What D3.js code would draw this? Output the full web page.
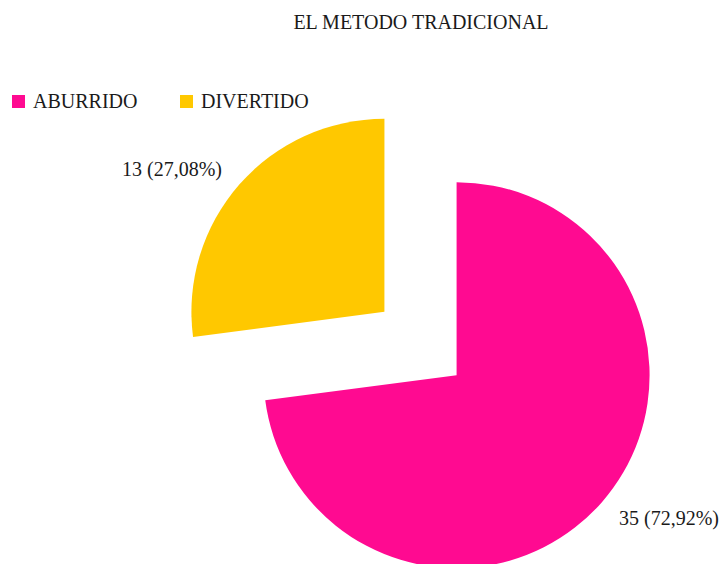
<!DOCTYPE html>
<html>
<head>
<meta charset="utf-8">
<script src="https://cdn.jsdelivr.net/npm/d3@7"></script>
<style>
    body { margin: 0; background: #fff; }
</style>
</head>
<body>
<div id="chart"></div>
<script>
var categories = ["ABURRIDO", "DIVERTIDO"];
var values = [35, 13];
var colors = ["#FF0A91", "#FFC800"];
var title = "EL METODO TRADICIONAL";

var width = 723, height = 564;
var cx = 420.5, cy = 343.5;
var radius = 193, explode = 48, labelRadius = 216;
var fontFamily = "'Times New Roman', 'Liberation Serif', 'DejaVu Serif', serif";

var svg = d3.select('#chart').append('svg')
    .attr('width', width)
    .attr('height', height)
    .attr('font-family', fontFamily)
    .attr('font-size', 20)
    .attr('fill', '#1a1a1a');

svg.append('text')
    .attr('x', 421)
    .attr('y', 29)
    .attr('text-anchor', 'middle')
    .text(title);

var total = d3.sum(values);
var data = categories.map(function (c, i) {
    return {name: c, value: values[i], color: colors[i]};
});

var pie = d3.pie()
    .sort(null)
    .value(function (d) { return d.value; });

var arc = d3.arc().innerRadius(0).outerRadius(radius);

var g = svg.append('g').attr('transform', 'translate(' + cx + ',' + cy + ')');

var slices = g.selectAll('g.slice').data(pie(data)).enter().append('g')
    .attr('class', 'slice')
    .attr('transform', function (d) {
        var a = (d.startAngle + d.endAngle) / 2;
        return 'translate(' + (Math.sin(a) * explode) + ',' + (-Math.cos(a) * explode) + ')';
    });

slices.append('path')
    .attr('d', arc)
    .attr('fill', function (d) { return d.data.color; });

// outside labels, anchored on the side of the slice
slices.append('text')
    .attr('x', function (d) {
        var a = (d.startAngle + d.endAngle) / 2;
        return Math.sin(a) * labelRadius;
    })
    .attr('y', function (d) {
        var a = (d.startAngle + d.endAngle) / 2;
        return -Math.cos(a) * labelRadius;
    })
    .attr('dy', '0.35em')
    .attr('text-anchor', function (d) {
        var a = (d.startAngle + d.endAngle) / 2;
        return Math.sin(a) < 0 ? 'end' : 'start';
    })
    .text(function (d) {
        var pct = (d.data.value / total * 100).toFixed(2).replace('.', ',');
        return d.data.value + ' (' + pct + '%)';
    });

// legend
var legendX = d3.scalePoint().domain(categories).range([12, 180]);

var legend = svg.selectAll('g.legend').data(data).enter().append('g')
    .attr('class', 'legend')
    .attr('transform', function (d) { return 'translate(' + legendX(d.name) + ',95)'; });

legend.append('rect')
    .attr('width', 13)
    .attr('height', 13)
    .attr('fill', function (d) { return d.color; });

legend.append('text')
    .attr('x', 21)
    .attr('y', 13)
    .text(function (d) { return d.name; });
</script>
</body>
</html>
